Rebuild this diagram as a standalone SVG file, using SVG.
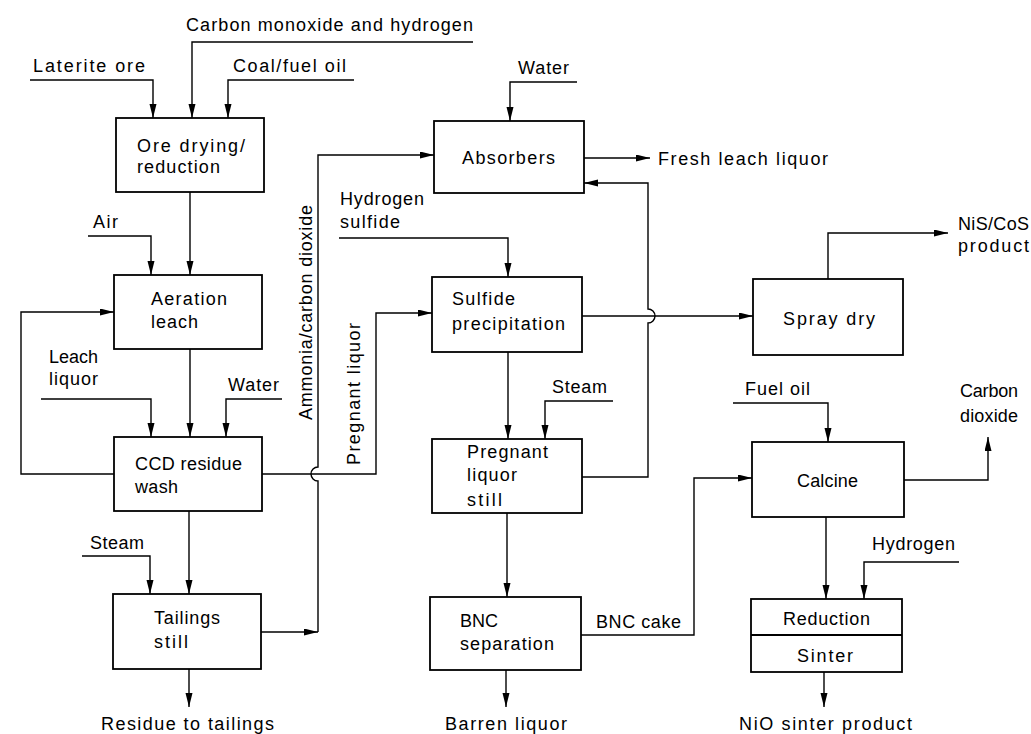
<svg xmlns="http://www.w3.org/2000/svg" width="1031" height="734" viewBox="0 0 1031 734">
<style>
.box{fill:none;stroke:#000;stroke-width:1.8}
.ln{fill:none;stroke:#000;stroke-width:1.4}
.arr{marker-end:url(#ah)}
text{font-family:"Liberation Sans",Arial,sans-serif;font-size:18px;fill:#000}
</style>
<defs>
<marker id="ah" markerUnits="userSpaceOnUse" markerWidth="16" markerHeight="8" refX="14" refY="3.5" orient="auto">
<path d="M0,0 L14,3.5 L0,7 z" fill="#000"/>
</marker>
</defs>
<rect width="1031" height="734" fill="#fff"/>

<g id="connectors">
<path class="ln arr" d="M30,80 H153 V118"/>
<path class="ln arr" d="M473,42 H192 V118"/>
<path class="ln arr" d="M354,80 H228 V118"/>
<path class="ln arr" d="M190,192 V275"/>
<path class="ln arr" d="M88,236 H151 V275"/>
<path class="ln arr" d="M114,474 H21 V312 H114"/>
<path class="ln arr" d="M190,349 V437"/>
<path class="ln arr" d="M41,399 H151 V437"/>
<path class="ln arr" d="M282,399 H226 V437"/>
<path class="ln arr" d="M189,511 V594"/>
<path class="ln arr" d="M82,556 H150 V594"/>
<path class="ln arr" d="M189,669 V707"/>
<path class="ln arr" d="M261,632 H318"/>
<path class="ln arr" d="M318,632 V481 A7,7 0 0 1 318,467 V155 H434"/>
<path class="ln arr" d="M262,474 H376 V313 H432"/>
<path class="ln arr" d="M577,82 H510 V121"/>
<path class="ln arr" d="M584,158 H650"/>
<path class="ln arr" d="M582,477 H648 V323 A7,7 0 0 0 648,309 V183 H584"/>
<path class="ln arr" d="M339,238 H508 V277"/>
<path class="ln arr" d="M582,316 H753"/>
<path class="ln arr" d="M508,352 V439"/>
<path class="ln arr" d="M613,401 H545 V439"/>
<path class="ln arr" d="M507,513 V597"/>
<path class="ln arr" d="M506,670 V707"/>
<path class="ln arr" d="M581,635 H694 V478 H752"/>
<path class="ln arr" d="M828,279 V233 H948"/>
<path class="ln arr" d="M733,403 H828 V442"/>
<path class="ln arr" d="M904,480 H988 V437"/>
<path class="ln arr" d="M826,517 V599"/>
<path class="ln arr" d="M959,562 H864 V599"/>
<path class="ln arr" d="M824,672 V707"/>
</g>

<g id="stream-labels">
<text x="186" y="31" textLength="287" lengthAdjust="spacing">Carbon monoxide and hydrogen</text>
<text x="33" y="72" textLength="112" lengthAdjust="spacing">Laterite ore</text>
<text x="233" y="72" textLength="113" lengthAdjust="spacing">Coal/fuel oil</text>
<text x="93" y="228" textLength="25" lengthAdjust="spacing">Air</text>
<text x="49" y="363" textLength="49" lengthAdjust="spacing">Leach</text>
<text x="49" y="385" textLength="49" lengthAdjust="spacing">liquor</text>
<text x="228" y="391" textLength="51" lengthAdjust="spacing">Water</text>
<text x="90" y="549" textLength="54" lengthAdjust="spacing">Steam</text>
<text x="101" y="730" textLength="173" lengthAdjust="spacing">Residue to tailings</text>
<text transform="translate(312,420) rotate(-90)" textLength="215" lengthAdjust="spacing">Ammonia/carbon dioxide</text>
<text transform="translate(360,465) rotate(-90)" textLength="142" lengthAdjust="spacing">Pregnant liquor</text>
<text x="518" y="74" textLength="51" lengthAdjust="spacing">Water</text>
<text x="658" y="165" textLength="170" lengthAdjust="spacing">Fresh leach liquor</text>
<text x="340" y="205" textLength="84" lengthAdjust="spacing">Hydrogen</text>
<text x="340" y="228" textLength="60" lengthAdjust="spacing">sulfide</text>
<text x="958" y="230" textLength="71" lengthAdjust="spacing">NiS/CoS</text>
<text x="958" y="252" textLength="71" lengthAdjust="spacing">product</text>
<text x="552" y="393" textLength="55" lengthAdjust="spacing">Steam</text>
<text x="596" y="628" textLength="85" lengthAdjust="spacing">BNC cake</text>
<text x="445" y="730" textLength="122" lengthAdjust="spacing">Barren liquor</text>
<text x="745" y="395" textLength="65" lengthAdjust="spacing">Fuel oil</text>
<text x="960" y="397" textLength="58" lengthAdjust="spacing">Carbon</text>
<text x="960" y="422" textLength="58" lengthAdjust="spacing">dioxide</text>
<text x="872" y="550" textLength="83" lengthAdjust="spacing">Hydrogen</text>
<text x="739" y="730" textLength="173" lengthAdjust="spacing">NiO sinter product</text>
</g>

<g id="ore-drying">
<rect class="box" x="116" y="118" width="148" height="74"/>
<text x="137" y="152" textLength="108" lengthAdjust="spacing">Ore drying/</text>
<text x="137" y="173" textLength="83" lengthAdjust="spacing">reduction</text>
</g>
<g id="aeration-leach">
<rect class="box" x="114" y="275" width="148" height="74"/>
<text x="151" y="305" textLength="76" lengthAdjust="spacing">Aeration</text>
<text x="151" y="328" textLength="47" lengthAdjust="spacing">leach</text>
</g>
<g id="ccd-residue-wash">
<rect class="box" x="114" y="437" width="148" height="74"/>
<text x="135" y="470" textLength="107" lengthAdjust="spacing">CCD residue</text>
<text x="135" y="493" textLength="43" lengthAdjust="spacing">wash</text>
</g>
<g id="tailings-still">
<rect class="box" x="113" y="594" width="148" height="75"/>
<text x="154" y="624" textLength="66" lengthAdjust="spacing">Tailings</text>
<text x="154" y="648" textLength="34" lengthAdjust="spacing">still</text>
</g>
<g id="absorbers">
<rect class="box" x="434" y="121" width="150" height="72"/>
<text x="462" y="164" textLength="93" lengthAdjust="spacing">Absorbers</text>
</g>
<g id="sulfide-precipitation">
<rect class="box" x="432" y="277" width="150" height="75"/>
<text x="452" y="305" textLength="63" lengthAdjust="spacing">Sulfide</text>
<text x="452" y="330" textLength="113" lengthAdjust="spacing">precipitation</text>
</g>
<g id="pregnant-liquor-still">
<rect class="box" x="432" y="439" width="150" height="74"/>
<text x="467" y="458" textLength="81" lengthAdjust="spacing">Pregnant</text>
<text x="467" y="481" textLength="50" lengthAdjust="spacing">liquor</text>
<text x="467" y="506" textLength="35" lengthAdjust="spacing">still</text>
</g>
<g id="bnc-separation">
<rect class="box" x="430" y="597" width="151" height="73"/>
<text x="460" y="627">BNC</text>
<text x="460" y="650" textLength="94" lengthAdjust="spacing">separation</text>
</g>
<g id="spray-dry">
<rect class="box" x="753" y="279" width="150" height="76"/>
<text x="783" y="325" textLength="92" lengthAdjust="spacing">Spray dry</text>
</g>
<g id="calcine">
<rect class="box" x="752" y="442" width="152" height="75"/>
<text x="797" y="487" textLength="61" lengthAdjust="spacing">Calcine</text>
</g>
<g id="reduction-sinter">
<rect class="box" x="751" y="599" width="151" height="73"/>
<line class="box" x1="751" y1="635" x2="902" y2="635"/>
<text x="783" y="625" textLength="87" lengthAdjust="spacing">Reduction</text>
<text x="797" y="662" textLength="56" lengthAdjust="spacing">Sinter</text>
</g>
</svg>
